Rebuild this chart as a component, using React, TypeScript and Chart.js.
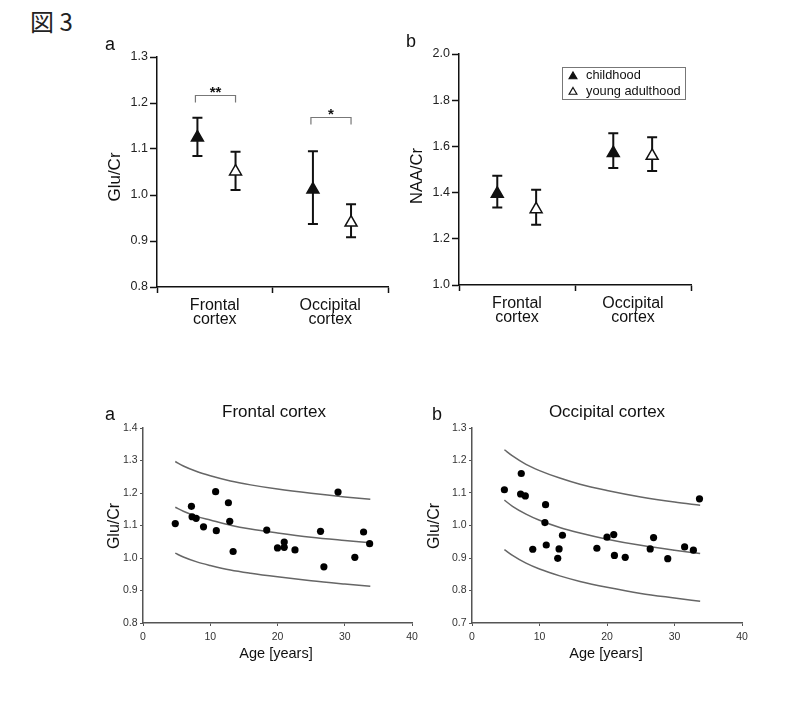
import React, { useEffect, useRef } from 'react';
import { Chart, registerables } from 'chart.js';

Chart.register(...registerables);

const FONT = "'Liberation Sans', Arial, Helvetica, sans-serif";
Chart.defaults.font.family = FONT;

// ---------------- data ----------------
const regionLabels = [['Frontal', 'cortex'], ['Occipital', 'cortex']];
const groupNames = ['childhood', 'young adulthood'];

// Fig. 3 top a: Glu/Cr (mean, upper and lower error bar ends)
const gluChildMean = [1.125, 1.012];
const gluChildUpper = [1.168, 1.095];
const gluChildLower = [1.085, 0.937];
const gluAdultMean = [1.051, 0.94];
const gluAdultUpper = [1.094, 0.98];
const gluAdultLower = [1.011, 0.908];
const gluStars = ['**', '*'];
const gluStarLevel = [1.217, 1.169];

// Fig. 3 top b: NAA/Cr
const naaChildMean = [1.395, 1.571];
const naaChildUpper = [1.473, 1.657];
const naaChildLower = [1.336, 1.507];
const naaAdultMean = [1.328, 1.559];
const naaAdultUpper = [1.412, 1.64];
const naaAdultLower = [1.261, 1.494];

// bottom a: frontal cortex scatter
const ageFrontal = [4.8, 7.2, 7.3, 7.9, 9.0, 10.8, 10.9, 12.7, 12.9, 13.4, 18.4, 20.0, 21.0, 21.0, 22.6, 26.4, 26.9, 29.0, 31.5, 32.8, 33.7];
const gluFrontal = [1.106, 1.159, 1.127, 1.122, 1.096, 1.204, 1.084, 1.17, 1.113, 1.02, 1.086, 1.031, 1.049, 1.033, 1.025, 1.082, 0.973, 1.203, 1.002, 1.08, 1.044];

// bottom b: occipital cortex scatter
const ageOccipital = [4.8, 7.3, 7.2, 7.9, 9.0, 10.9, 10.8, 11.0, 12.7, 12.9, 13.4, 18.5, 20.0, 21.0, 21.1, 22.7, 26.4, 26.9, 29.0, 31.5, 32.8, 33.7];
const gluOccipital = [1.11, 1.16, 1.097, 1.091, 0.927, 1.064, 1.009, 0.94, 0.899, 0.928, 0.97, 0.93, 0.964, 0.972, 0.908, 0.902, 0.928, 0.963, 0.898, 0.934, 0.924, 1.082];

// fitted curves (read at these ages)
const fitAges = [4.8, 6, 8, 10, 13, 16, 20, 25, 30, 33.8];
const frontalUpper = [1.297, 1.283, 1.266, 1.253, 1.237, 1.225, 1.212, 1.199, 1.188, 1.181];
const frontalFit = [1.156, 1.144, 1.128, 1.117, 1.101, 1.089, 1.077, 1.064, 1.054, 1.047];
const frontalLower = [1.015, 1.003, 0.988, 0.977, 0.963, 0.953, 0.942, 0.93, 0.92, 0.913];
const occipitalUpper = [1.233, 1.214, 1.188, 1.169, 1.146, 1.127, 1.108, 1.088, 1.072, 1.062];
const occipitalFit = [1.078, 1.059, 1.035, 1.016, 0.994, 0.977, 0.958, 0.939, 0.924, 0.914];
const occipitalLower = [0.926, 0.908, 0.884, 0.866, 0.845, 0.828, 0.81, 0.791, 0.777, 0.767];

// ---------------- helpers ----------------
type Area = { L: number; T: number; R: number; B: number };

function frame(a: Area, yW: number, xH: number, pad: number) {
  const left = a.L - yW - pad;
  const top = a.T - pad;
  return { left, top, width: a.R + pad - left, height: a.B + xH + pad - top };
}

function drawTri(ctx: CanvasRenderingContext2D, x: number, y: number, r: number, fill: string, stroke: string, lw: number) {
  ctx.beginPath();
  for (let k = 0; k < 3; k++) {
    const ang = (k * 2 * Math.PI) / 3;
    const px = x + Math.sin(ang) * r;
    const py = y - Math.cos(ang) * r;
    if (k === 0) ctx.moveTo(px, py);
    else ctx.lineTo(px, py);
  }
  ctx.closePath();
  ctx.fillStyle = fill;
  ctx.fill();
  ctx.lineWidth = lw;
  ctx.strokeStyle = stroke;
  ctx.stroke();
}

const errorBarPlugin = {
  id: 'errorBars',
  beforeDatasetsDraw(chart: any) {
    const { ctx } = chart;
    const xs = chart.scales.x;
    const ys = chart.scales.y;
    ctx.save();
    ctx.strokeStyle = '#111';
    ctx.lineWidth = 2;
    chart.data.datasets.forEach((ds: any) => {
      if (!ds.errUpper) return;
      ds.data.forEach((p: any, i: number) => {
        const px = xs.getPixelForValue(p.x);
        const yu = ys.getPixelForValue(ds.errUpper[i]);
        const yl = ys.getPixelForValue(ds.errLower[i]);
        ctx.beginPath();
        ctx.moveTo(px, yu);
        ctx.lineTo(px, yl);
        ctx.moveTo(px - 5, yu);
        ctx.lineTo(px + 5, yu);
        ctx.moveTo(px - 5, yl);
        ctx.lineTo(px + 5, yl);
        ctx.stroke();
      });
    });
    ctx.restore();
  },
};

const bracketPlugin = {
  id: 'brackets',
  afterDatasetsDraw(chart: any, _args: any, opts: any) {
    if (!opts || !opts.stars) return;
    const { ctx } = chart;
    const xs = chart.scales.x;
    const ys = chart.scales.y;
    const [child, adult] = chart.data.datasets;
    ctx.save();
    opts.stars.forEach((s: string, i: number) => {
      const x1 = xs.getPixelForValue(child.data[i].x) - 2;
      const x2 = xs.getPixelForValue(adult.data[i].x);
      const yy = Math.round(ys.getPixelForValue(opts.levels[i])) + 0.5;
      ctx.strokeStyle = '#777';
      ctx.lineWidth = 1.2;
      ctx.beginPath();
      ctx.moveTo(x1, yy + 7);
      ctx.lineTo(x1, yy);
      ctx.lineTo(x2, yy);
      ctx.lineTo(x2, yy + 7);
      ctx.stroke();
      ctx.fillStyle = '#111';
      ctx.font = `bold 15px ${FONT}`;
      ctx.textAlign = 'center';
      ctx.textBaseline = 'alphabetic';
      ctx.fillText(s, (x1 + x2) / 2, yy + 1);
    });
    ctx.restore();
  },
};

const legendBoxPlugin = {
  id: 'legendBox',
  afterDraw(chart: any) {
    const { ctx, chartArea } = chart;
    const w = 123;
    const h = 32;
    const x0 = Math.round(chartArea.right - 6 - w);
    const y0 = Math.round(chartArea.top + 13);
    ctx.save();
    ctx.strokeStyle = '#777';
    ctx.lineWidth = 1;
    ctx.strokeRect(x0 + 0.5, y0 + 0.5, w, h);
    chart.data.datasets.forEach((ds: any, i: number) => {
      const cy = y0 + 8.5 + i * 15.5;
      drawTri(ctx, x0 + 11, cy + 1, 4.5, ds.backgroundColor, ds.borderColor, 1.2);
      ctx.fillStyle = '#111';
      ctx.font = `12.8px ${FONT}`;
      ctx.textAlign = 'left';
      ctx.textBaseline = 'middle';
      ctx.fillText(ds.label, x0 + 24, cy);
    });
    ctx.restore();
  },
};

function groupDatasets(
  cm: number[], cu: number[], cl: number[],
  am: number[], au: number[], al: number[],
  offC: number, offA: number,
) {
  return [
    {
      label: groupNames[0],
      data: cm.map((v, i) => ({ x: 2 * i + 1 + offC, y: v })),
      errUpper: cu,
      errLower: cl,
      pointStyle: 'triangle',
      pointRadius: 6.9,
      backgroundColor: '#111',
      borderColor: '#111',
      borderWidth: 1.5,
    },
    {
      label: groupNames[1],
      data: am.map((v, i) => ({ x: 2 * i + 1 + offA, y: v })),
      errUpper: au,
      errLower: al,
      pointStyle: 'triangle',
      pointRadius: 6.9,
      backgroundColor: '#fff',
      borderColor: '#111',
      borderWidth: 1.5,
    },
  ];
}

function baseOptions(pad: number) {
  return {
    responsive: false,
    animation: false,
    devicePixelRatio: 1,
    events: [],
    layout: { padding: pad },
  } as any;
}

function groupScales(yMin: number, yMax: number, yStep: number, yW: number, xH: number) {
  return {
    x: {
      type: 'linear',
      min: 0,
      max: 4,
      afterFit: (s: any) => { s.height = xH; },
      border: { display: true, color: '#111', width: 1.5 },
      grid: {
        drawOnChartArea: false,
        drawTicks: true,
        tickLength: 6,
        tickWidth: 1.5,
        tickColor: (c: any) => (c.tick && Math.round(c.tick.value) % 2 === 0 ? '#111' : 'rgba(0,0,0,0)'),
      },
      ticks: {
        stepSize: 1,
        autoSkip: false,
        maxRotation: 0,
        padding: 6,
        color: '#111',
        font: { size: 16, lineHeight: 0.875 },
        callback: (v: any) => (Math.round(v) % 2 === 1 ? regionLabels[(Math.round(v) - 1) / 2] : ''),
      },
    },
    y: {
      type: 'linear',
      min: yMin,
      max: yMax,
      afterFit: (s: any) => { s.width = yW; },
      border: { display: true, color: '#111', width: 1.5 },
      grid: { drawOnChartArea: false, drawTicks: true, tickLength: 7, tickWidth: 1.5, tickColor: '#111' },
      ticks: {
        stepSize: yStep,
        padding: 2,
        color: '#222',
        font: { size: 12.5 },
        callback: (v: any) => Number(v).toFixed(1),
      },
    },
  } as any;
}

function scatterScales(yMin: number, yMax: number, yW: number, xH: number) {
  return {
    x: {
      type: 'linear',
      min: 0,
      max: 40,
      afterFit: (s: any) => { s.height = xH; },
      border: { display: true, color: '#555', width: 1.5 },
      grid: { drawOnChartArea: false, drawTicks: true, tickLength: 3, tickWidth: 1, tickColor: '#555' },
      ticks: { stepSize: 10, padding: 5, color: '#333', font: { size: 10.5 }, maxRotation: 0 },
    },
    y: {
      type: 'linear',
      min: yMin,
      max: yMax,
      afterFit: (s: any) => { s.width = yW; },
      border: { display: true, color: '#555', width: 1.5 },
      grid: { drawOnChartArea: false, drawTicks: true, tickLength: 3, tickWidth: 1, tickColor: '#555' },
      ticks: { stepSize: 0.1, padding: 2.5, color: '#333', font: { size: 10.5 }, callback: (v: any) => Number(v).toFixed(1) },
    },
  } as any;
}

function curve(ys: number[]) {
  return {
    data: fitAges.map((a, i) => ({ x: a, y: ys[i] })),
    showLine: true,
    pointRadius: 0,
    borderColor: '#666',
    borderWidth: 1.5,
    tension: 0.4,
    cubicInterpolationMode: 'monotone',
    fill: false,
  };
}

function scatterDatasets(ages: number[], vals: number[], up: number[], mid: number[], lo: number[]) {
  return [
    {
      data: ages.map((a, i) => ({ x: a, y: vals[i] })),
      pointRadius: 3.6,
      pointStyle: 'circle',
      backgroundColor: '#000',
      borderColor: '#000',
      borderWidth: 0,
    },
    curve(up),
    curve(mid),
    curve(lo),
  ];
}

// ---------------- panels ----------------
const PAD = 12;
const topAArea: Area = { L: 157, T: 57, R: 388, B: 287 };
const topBArea: Area = { L: 459, T: 54, R: 691, B: 285 };
const botAArea: Area = { L: 143, T: 428, R: 412, B: 623 };
const botBArea: Area = { L: 472, T: 428, R: 742, B: 623 };

function makeTopA() {
  return {
    type: 'scatter',
    data: {
      datasets: groupDatasets(gluChildMean, gluChildUpper, gluChildLower, gluAdultMean, gluAdultUpper, gluAdultLower, -0.3, 0.36),
    },
    options: {
      ...baseOptions(PAD),
      scales: groupScales(0.8, 1.3, 0.1, 46, 50),
      plugins: {
        legend: { display: false },
        tooltip: { enabled: false },
        brackets: { stars: gluStars, levels: gluStarLevel },
      },
    },
    plugins: [errorBarPlugin, bracketPlugin],
  } as any;
}

function makeTopB() {
  return {
    type: 'scatter',
    data: {
      datasets: groupDatasets(naaChildMean, naaChildUpper, naaChildLower, naaAdultMean, naaAdultUpper, naaAdultLower, -0.34, 0.33),
    },
    options: {
      ...baseOptions(PAD),
      scales: groupScales(1.0, 2.0, 0.2, 46, 50),
      plugins: { legend: { display: false }, tooltip: { enabled: false } },
    },
    plugins: [errorBarPlugin, legendBoxPlugin],
  } as any;
}

function makeBotA() {
  return {
    type: 'scatter',
    data: { datasets: scatterDatasets(ageFrontal, gluFrontal, frontalUpper, frontalFit, frontalLower) },
    options: {
      ...baseOptions(PAD),
      scales: scatterScales(0.8, 1.4, 32, 22),
      plugins: { legend: { display: false }, tooltip: { enabled: false } },
    },
  } as any;
}

function makeBotB() {
  return {
    type: 'scatter',
    data: { datasets: scatterDatasets(ageOccipital, gluOccipital, occipitalUpper, occipitalFit, occipitalLower) },
    options: {
      ...baseOptions(PAD),
      scales: scatterScales(0.7, 1.3, 32, 22),
      plugins: { legend: { display: false }, tooltip: { enabled: false } },
    },
  } as any;
}

function ChartPanel({ build, area, yW, xH }: { build: () => any; area: Area; yW: number; xH: number }) {
  const ref = useRef<HTMLCanvasElement>(null);
  const f = frame(area, yW, xH, PAD);
  useEffect(() => {
    const chart = new Chart(ref.current as HTMLCanvasElement, build());
    return () => chart.destroy();
  }, []);
  return (
    <canvas
      ref={ref}
      width={f.width}
      height={f.height}
      style={{ position: 'absolute', left: f.left, top: f.top, width: f.width, height: f.height }}
    />
  );
}

function Text({ x, base, size, children, align = 'left', family = FONT, color = '#111' }: any) {
  const top = base - 0.8465 * size;
  const tx = align === 'center' ? 'translateX(-50%)' : 'none';
  return (
    <div
      style={{
        position: 'absolute',
        left: x,
        top,
        fontSize: size,
        lineHeight: 1,
        fontFamily: family,
        color,
        whiteSpace: 'nowrap',
        transform: tx,
      }}
    >
      {children}
    </div>
  );
}

function VText({ cx, cy, size, children }: any) {
  return (
    <div
      style={{
        position: 'absolute',
        left: cx,
        top: cy,
        fontSize: size,
        lineHeight: 1,
        fontFamily: FONT,
        color: '#111',
        whiteSpace: 'nowrap',
        transform: 'translate(-50%, -50%) rotate(-90deg)',
      }}
    >
      {children}
    </div>
  );
}

export default function App() {
  return (
    <div style={{ position: 'absolute', left: 0, top: 0, width: 800, height: 705, background: '#fff', overflow: 'hidden' }}>
      <div
        style={{
          position: 'absolute',
          left: 30,
          top: 9,
          fontSize: 24,
          lineHeight: 1,
          fontFamily: "'Noto Sans CJK JP', sans-serif",
          color: '#222',
          whiteSpace: 'nowrap',
        }}
      >
        図 3
      </div>

      <ChartPanel build={makeTopA} area={topAArea} yW={46} xH={50} />
      <ChartPanel build={makeTopB} area={topBArea} yW={46} xH={50} />
      <ChartPanel build={makeBotA} area={botAArea} yW={32} xH={22} />
      <ChartPanel build={makeBotB} area={botBArea} yW={32} xH={22} />

      <Text x={105} base={50} size={18}>a</Text>
      <Text x={406} base={47} size={18}>b</Text>
      <VText cx={114} cy={177} size={17}>Glu/Cr</VText>
      <VText cx={416} cy={176} size={16.5}>NAA/Cr</VText>

      <Text x={105} base={420} size={18}>a</Text>
      <Text x={432} base={420} size={18}>b</Text>
      <Text x={274} base={417} size={17} align="center">Frontal cortex</Text>
      <Text x={607} base={417} size={17} align="center">Occipital cortex</Text>
      <VText cx={114} cy={526} size={16}>Glu/Cr</VText>
      <VText cx={434} cy={526} size={16}>Glu/Cr</VText>
      <Text x={276} base={658} size={14.5} align="center">Age [years]</Text>
      <Text x={606} base={658} size={14.5} align="center">Age [years]</Text>
    </div>
  );
}
